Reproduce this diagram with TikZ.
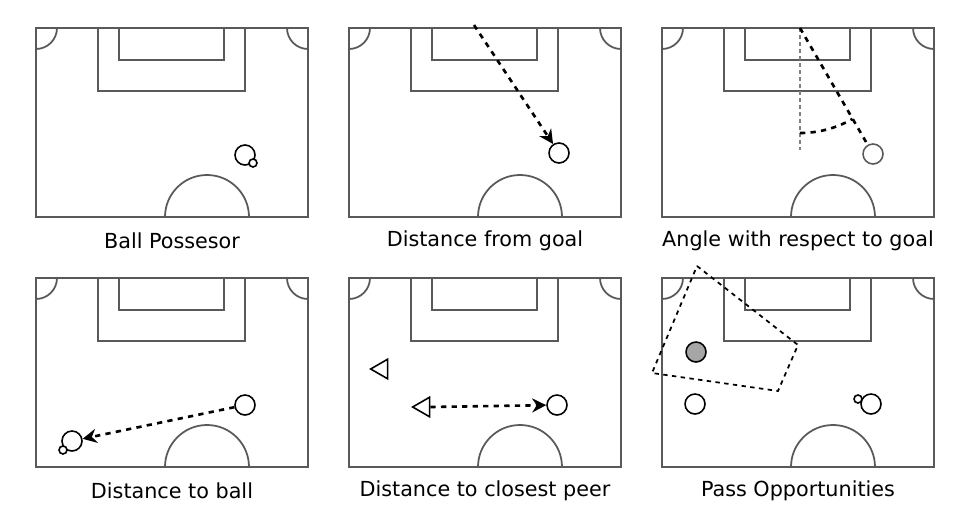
\documentclass[tikz,border=0pt]{standalone}
\usepackage{fontspec}
\setmainfont{DejaVu Sans}
\usetikzlibrary{arrows.meta}
\usetikzlibrary{shapes.geometric}
\tikzset{
  field/.style={gray!70!black,line width=1pt},
  player/.style={circle,draw=black,fill=white,line width=0.9pt,minimum size=0.4cm,inner sep=0pt},
  ball/.style={circle,draw=black,fill=white,line width=0.9pt,minimum size=0.16cm,inner sep=0pt},
  peer/.style={isosceles triangle,isosceles triangle apex angle=60,shape border rotate=180,draw=black,line width=0.9pt,minimum height=0.34cm,inner sep=0pt},
  link/.style={line width=1.5pt,dash pattern=on 3pt off 3pt,-{Stealth[length=8pt,width=8pt]}},
  caption/.style={font=\fontsize{11.8}{13}\selectfont}
}
\newcommand{\pitch}[1]{%
  \draw[field] (0,0) rectangle (272,189);
  \draw[field] (62,0) rectangle (209,63);
  \draw[field] (83,0) rectangle (188,32);
  \draw[field] (21,0) arc[start angle=0,end angle=90,radius=21];
  \draw[field] (251,0) arc[start angle=180,end angle=90,radius=21];
  \draw[field] (129,189) arc[start angle=180,end angle=360,radius=42];
  \node[caption] at (136,213) {#1};
}
\begin{document}
\begin{tikzpicture}[x=0.02cm,y=-0.02cm]
\useasboundingbox (0,0) rectangle (971,524);

% ball possesor
\begin{scope}[shift={(36,28)}]
\pitch{Ball Possesor}
\node[player] (p1) at (209,127) {};
\node[ball] (b1) at (217,135) {};
\end{scope}

% distance from goal
\begin{scope}[shift={(349,28)}]
\pitch{Distance from goal}
\node[player] (p2) at (210,125) {};
\coordinate (g2) at (125,-3);
\draw[link] (g2) -- (p2);
\end{scope}

% angle with respect to goal
\begin{scope}[shift={(662,28)}]
\pitch{Angle with respect to goal}
\node[player,draw=gray!70!black] (p3) at (211,126) {};
\coordinate (g3) at (138,0);
\draw[gray,line width=0.8pt,dash pattern=on 2pt off 2pt] (g3) -- (138,122);
\draw[line width=1.5pt,dash pattern=on 3pt off 3pt] (g3) -- (p3);
\draw[line width=1.5pt,dash pattern=on 3pt off 3pt] (g3) ++(90:105) arc[start angle=90,end angle=60,radius=105];
\end{scope}

% distance to ball
\begin{scope}[shift={(36,278)}]
\pitch{Distance to ball}
\node[player] (p4) at (209,127) {};
\node[player] (c4) at (36,163) {};
\node[ball] (b4) at (27,172) {};
\draw[link] (p4) -- (c4);
\end{scope}

% distance to closest peer
\begin{scope}[shift={(349,278)}]
\pitch{Distance to closest peer}
\node[player] (p5) at (208,127) {};
\node[peer] (e5) at (33,91) {};
\node[peer] (f5) at (75,129) {};
\draw[link] (f5.east) -- (p5);
\end{scope}

% pass opportunities
\begin{scope}[shift={(662,278)}]
\pitch{Pass Opportunities}
\node[player,fill=gray!70] (q6) at (34,74) {};
\node[player] (r6) at (33,126) {};
\node[player] (p6) at (209,126) {};
\node[ball] (b6) at (196,121) {};
\draw[line width=1pt,dash pattern=on 2.5pt off 2.5pt] (35,-12) -- (136,67) -- (116,113) -- (-10,95) -- cycle;
\end{scope}
\end{tikzpicture}
\end{document}
